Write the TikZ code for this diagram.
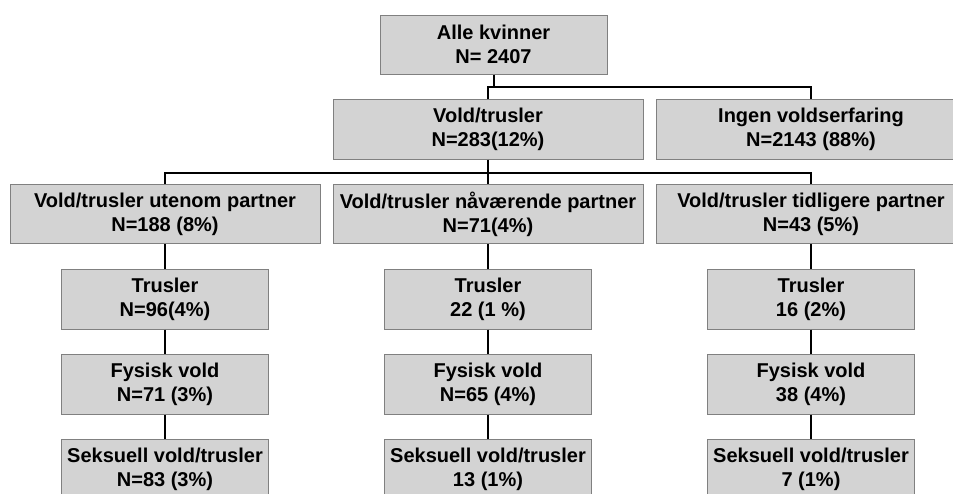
\documentclass[tikz,border=0pt]{standalone}
\usepackage{fontspec}
\setmainfont{Liberation Sans}
\begin{document}
\begin{tikzpicture}[x=1pt,y=-1pt,
  box/.style={draw=boxline, fill=boxfill, line width=1pt, inner sep=0pt,
    align=center, font=\bfseries\fontsize{20}{24}\selectfont},
  wide/.style={box, minimum width=310pt, minimum height=59.5pt},
  narrow/.style={box, minimum width=207pt, minimum height=60pt},
  conn/.style={line width=2pt, black}]
\definecolor{boxfill}{RGB}{211,211,211}
\definecolor{boxline}{RGB}{128,128,128}
\useasboundingbox (0,0) rectangle (953,493);
\clip (0,0) rectangle (953,493);
\fill[white] (0,0) rectangle (953,493);
% level 1
\node[box, minimum width=227pt, minimum height=59pt] (all) at (493.5,44.5) {Alle kvinner\\N= 2407};
% level 2
\node[wide] (vold) at (488,129.5) {Vold/trusler\\N=283(12\%)};
\node[wide] (ingen) at (811,129.5) {Ingen voldserfaring\\N=2143 (88\%)};
% level 3
\node[wide] (ute) at (165,214) {Vold/trusler utenom partner\\N=188 (8\%)};
\node[wide] (naa) at (488,214) {Vold/trusler nåværende partner\\N=71(4\%)};
\node[wide] (tid) at (811,214) {Vold/trusler tidligere partner\\N=43 (5\%)};
% level 4
\node[narrow] (tr1) at (165,299) {Trusler\\N=96(4\%)};
\node[narrow] (tr2) at (488,299) {Trusler\\22 (1 \%)};
\node[narrow] (tr3) at (811,299) {Trusler\\16 (2\%)};
% level 5
\node[narrow] (fy1) at (165,384) {Fysisk vold\\N=71 (3\%)};
\node[narrow] (fy2) at (488,384) {Fysisk vold\\N=65 (4\%)};
\node[narrow] (fy3) at (811,384) {Fysisk vold\\38 (4\%)};
% level 6
\node[narrow] (se1) at (165,469) {Seksuell vold/trusler\\N=83 (3\%)};
\node[narrow] (se2) at (488,469) {Seksuell vold/trusler\\13 (1\%)};
\node[narrow] (se3) at (811,469) {Seksuell vold/trusler\\7 (1\%)};
% connectors
\coordinate (h1) at (0,87);
\coordinate (h2) at (0,172.5);
\draw[conn] (all.south) -- (all.south |- h1);
\draw[conn] (vold.north) -- (vold.north |- h1) -- (ingen.north |- h1) -- (ingen.north);
\draw[conn] (vold.south) -- (naa.north);
\draw[conn] (ute.north) -- (ute.north |- h2) -- (tid.north |- h2) -- (tid.north);
\foreach \a/\b in {ute/tr1, naa/tr2, tid/tr3, tr1/fy1, tr2/fy2, tr3/fy3, fy1/se1, fy2/se2, fy3/se3}
  \draw[conn] (\a.south) -- (\b.north);
\end{tikzpicture}
\end{document}
